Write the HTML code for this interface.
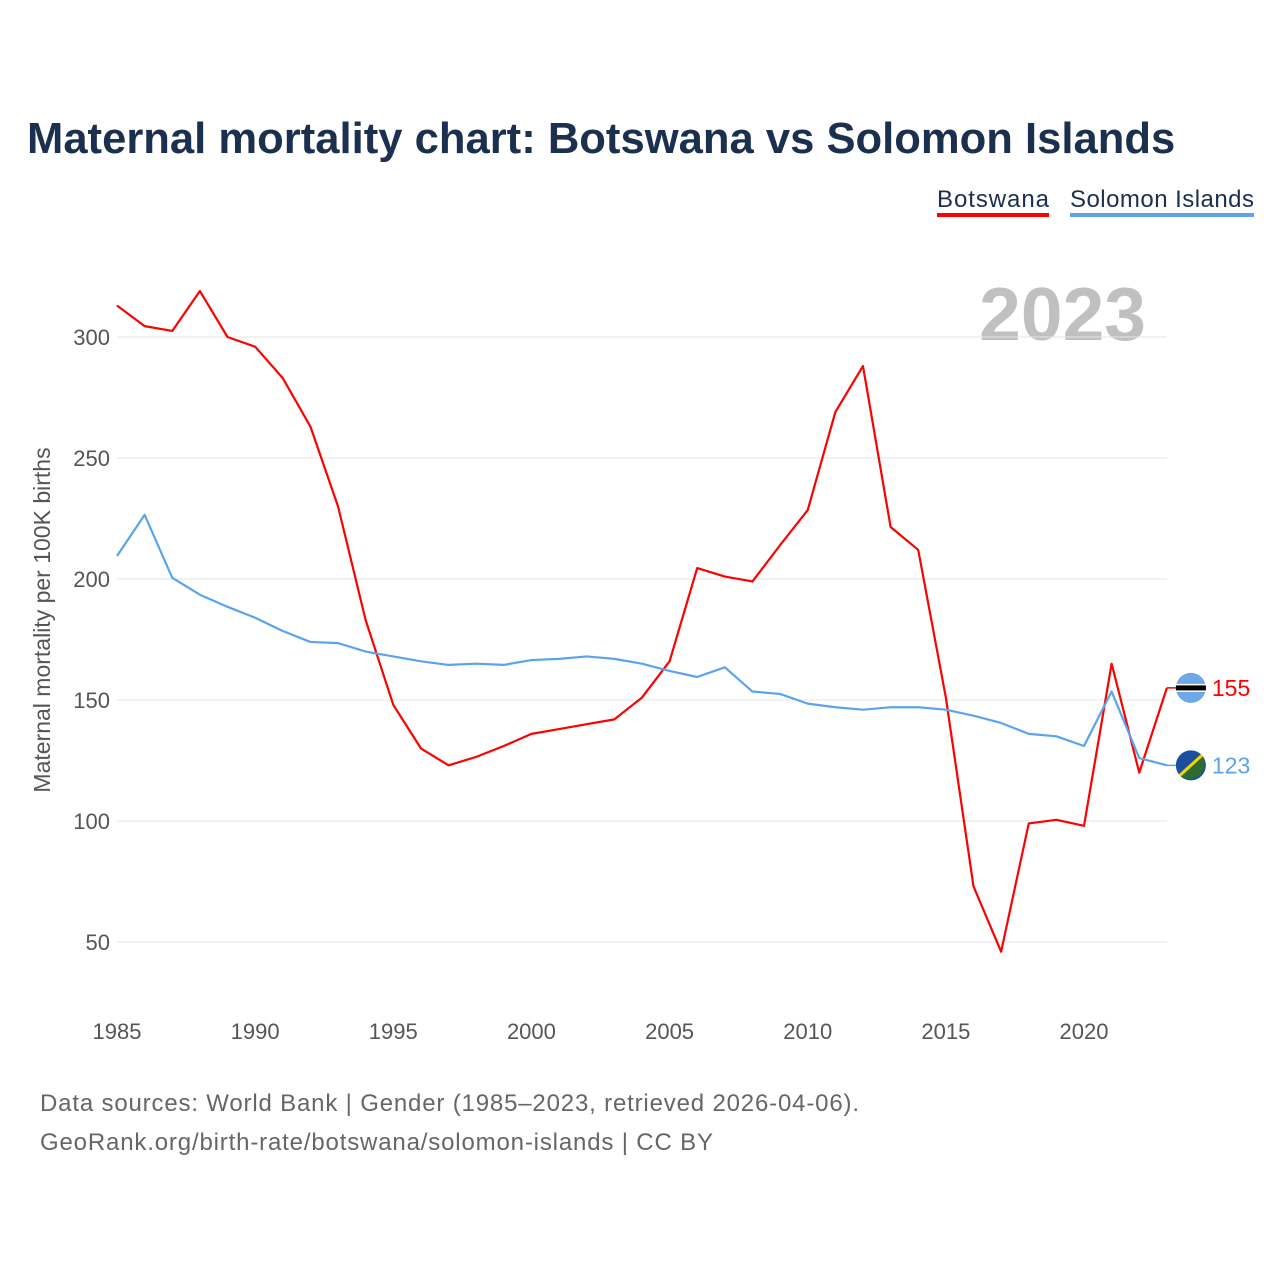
<!DOCTYPE html>
<html><head><meta charset="utf-8"><style>
body{margin:0;background:#fff;font-family:"Liberation Sans",sans-serif}
</style></head><body>
<svg id="chart" width="1280" height="1280" xmlns="http://www.w3.org/2000/svg" font-family="Liberation Sans, sans-serif">
<rect width="1280" height="1280" fill="#fff"/>
<text x="27" y="153" font-size="43.6" font-weight="bold" fill="#1b2f4f">Maternal mortality chart: Botswana vs Solomon Islands</text>
<g>
<text x="937" y="207" font-size="24" fill="#1b2f4f" textLength="112">Botswana</text>
<rect x="937" y="213" width="112" height="4" fill="#ff0000"/>
<text x="1070" y="207" font-size="24" fill="#1b2f4f" textLength="184">Solomon Islands</text>
<rect x="1070" y="213" width="184" height="4" fill="#5ba3ea"/>
</g>
<text x="1146" y="340" text-anchor="end" font-size="75" font-weight="bold" fill="#c0c0c0">2023</text>
<g id="grid"></g><g id="xt"></g><g id="lines"></g>
<text transform="translate(50,620) rotate(-90)" text-anchor="middle" font-size="23" fill="#555">Maternal mortality per 100K births</text>
<text x="40" y="1111" font-size="24" fill="#666" textLength="819">Data sources: World Bank | Gender (1985–2023, retrieved 2026-04-06).</text>
<text x="40" y="1150" font-size="24" fill="#666" textLength="673">GeoRank.org/birth-rate/botswana/solomon-islands | CC BY</text>
</svg>
<script>
const years=[];for(let y=1985;y<=2023;y++)years.push(y);
const botswana=[313,304.5,302.5,319,300,296,283,263,230,183,148,130,123,126.5,131,136,138,140,142,151,166,204.5,201,199,214,228.5,269,288,221.5,212,151,73,46,99,100.5,98,165,120,155];
const solomon=[209.5,226.5,200.5,193.5,188.5,184,178.5,174,173.5,170,168,166,164.5,165,164.5,166.5,167,168,167,165,162,159.5,163.5,153.5,152.5,148.5,147,146,147,147,146,143.5,140.5,136,135,131,153.5,126,123];
const yTicks=[50,100,150,200,250,300];
const xTicks=[1985,1990,1995,2000,2005,2010,2015,2020];
const X=y=>117+(y-1985)*(1084-117)/35;
const Y=v=>337+(300-v)*2.42;
const NS="http://www.w3.org/2000/svg";
function mk(t,a,p){const e=document.createElementNS(NS,t);for(const k in a)e.setAttribute(k,a[k]);p.appendChild(e);return e;}
const grid=document.getElementById('grid'),xt=document.getElementById('xt'),lines=document.getElementById('lines');
yTicks.forEach(v=>{
 const l=mk('line',{x1:117,x2:1167,y1:Y(v),y2:Y(v),stroke:'#e6e6e6','stroke-width':1},grid);
 
 
 const t=mk('text',{x:110,y:Y(v)+8,'text-anchor':'end','font-size':22,fill:'#555'},grid);t.textContent=v;
 
 
});
xTicks.forEach(v=>{
 const t=mk('text',{x:X(v),y:1039,'text-anchor':'middle','font-size':22,fill:'#555'},xt);t.textContent=v;
 
 
});
function series(vals,color,name,flag){
 const p=mk('polyline',{points:vals.map((v,i)=>X(years[i])+','+Y(v)).join(' '),fill:'none',stroke:color,'stroke-width':2.2,'stroke-linejoin':'round'},lines);
 
 
 const last=vals[vals.length-1],lx=X(2023),ly=Y(last);
 const cx=lx+24;
 const g=mk('g',{},lines);
 
 
 mk('line',{x1:lx,x2:cx,y1:ly,y2:ly,stroke:color,'stroke-width':1.5},g);
 if(flag==='bw'){
  mk('circle',{cx:cx,cy:ly,r:15,fill:'#6da9e6'},g);
  mk('rect',{x:cx-15,y:ly-4,width:30,height:8,fill:'#fff'},g);
  mk('rect',{x:cx-15,y:ly-2.5,width:30,height:5,fill:'#000'},g);
 } else {
  mk('circle',{cx:cx,cy:ly,r:15,fill:'#1a4f9c'},g);
  mk('path',{d:`M${cx+11} ${ly-10} A15 15 0 0 1 ${cx-11} ${ly+10} Z`,fill:'#2e6b2e'},g);
  mk('line',{x1:cx-11,y1:ly+10,x2:cx+11,y2:ly-10,stroke:'#f5d400','stroke-width':3},g);
 }
 const t=mk('text',{x:lx+45,y:ly+8,'font-size':23,fill:color},lines);t.textContent=Math.round(last);
 
 
}
series(botswana,'#ff0000','botswana','bw');
series(solomon,'#5ba3ea','solomon-islands','sb');
</script>
</body></html>
